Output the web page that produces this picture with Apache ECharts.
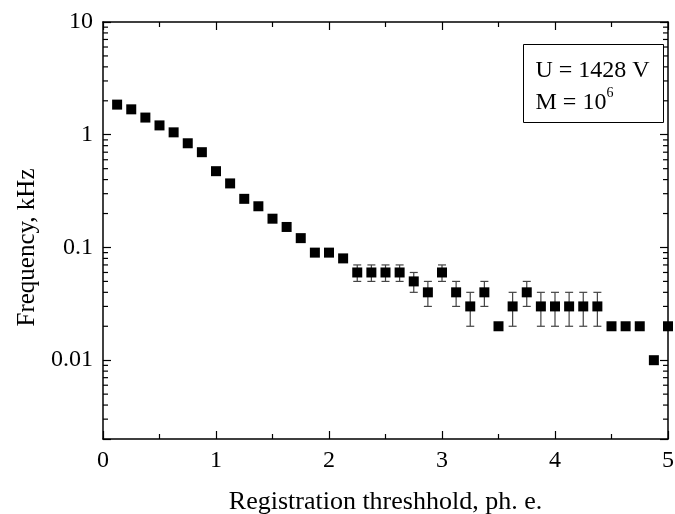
<!DOCTYPE html>
<html>
<head>
<meta charset="utf-8">
<script src="https://cdn.jsdelivr.net/npm/echarts@6/dist/echarts.min.js"></script>
<style>
  html, body { margin: 0; padding: 0; background: #fff; }
  #chart { width: 675px; height: 514px; }
</style>
</head>
<body>
<div id="chart"></div>
<script>
// registration threshold, ph. e.
const thresholds = [
  0.125, 0.25, 0.375, 0.5, 0.625, 0.75, 0.875, 1.0,
  1.125, 1.25, 1.375, 1.5, 1.625, 1.75, 1.875, 2.0,
  2.125, 2.25, 2.375, 2.5, 2.625, 2.75, 2.875, 3.0,
  3.125, 3.25, 3.375, 3.5, 3.625, 3.75, 3.875, 4.0,
  4.125, 4.25, 4.375, 4.5, 4.625, 4.75, 4.875, 5.0
];
// frequency, kHz
const frequency = [
  1.85, 1.68, 1.42, 1.21, 1.05, 0.84, 0.70, 0.475,
  0.37, 0.27, 0.232, 0.18, 0.152, 0.121, 0.09, 0.09,
  0.08, 0.06, 0.06, 0.06, 0.06, 0.05, 0.04, 0.06,
  0.04, 0.03, 0.04, 0.02, 0.03, 0.04, 0.03, 0.03,
  0.03, 0.03, 0.03, 0.02, 0.02, 0.02, 0.01, 0.02
];
// symmetric error, kHz (0 = no bar drawn)
const freqError = [
  0, 0, 0, 0, 0, 0, 0, 0,
  0, 0, 0, 0, 0, 0, 0.005, 0.005,
  0.005, 0.01, 0.01, 0.01, 0.01, 0.01, 0.01, 0.01,
  0.01, 0.01, 0.01, 0, 0.01, 0.01, 0.01, 0.01,
  0.01, 0.01, 0.01, 0, 0, 0, 0, 0
];

const yMin = 0.002;
const yMax = 10;
const xMin = 0;
const xMax = 5;
const decades = [0.001, 0.01, 0.1, 1];
const minorSteps = [2, 3, 4, 5, 6, 7, 8, 9];

const font = 'Liberation Serif';

const pointData = thresholds.map((x, i) => [x, frequency[i]]);
const errorData = thresholds
  .map((x, i) => [x, frequency[i] - freqError[i], frequency[i] + freqError[i]])
  .filter((d, i) => freqError[i] > 0);

// minor ticks of the log axes (2..9 in each decade), drawn as a custom series
const minorData = [];
decades.forEach(d => minorSteps.forEach(s => {
  const v = +(d * s).toPrecision(3);
  if (v > yMin && v < yMax) minorData.push([2.5, v, v]);
}));

function isDecade(v) {
  const l = Math.log10(v);
  return Math.abs(l - Math.round(l)) < 1e-6;
}

const axisLine = { show: true, onZero: false, lineStyle: { color: '#000', width: 1.5 } };
const majorTick = { show: true, inside: true, length: 8, lineStyle: { color: '#000', width: 1.2 } };
const xMinorTick = { show: true, splitNumber: 2, length: 5, lineStyle: { color: '#000', width: 1.2 } };

const chart = echarts.init(document.getElementById('chart'), null, { renderer: 'canvas' });

chart.setOption({
  animation: false,
  backgroundColor: '#fff',
  grid: { left: 103, right: 7, top: 22, bottom: 75, outerBoundsMode: 'none' },
  xAxis: [
    {
      type: 'value',
      min: xMin,
      max: xMax,
      interval: 1,
      position: 'bottom',
      name: 'Registration threshhold, ph. e.',
      nameLocation: 'middle',
      nameGap: 50,
      nameTextStyle: { fontFamily: font, fontSize: 26, color: '#000' },
      axisLine: axisLine,
      axisTick: majorTick,
      minorTick: xMinorTick,
      axisLabel: { fontFamily: font, fontSize: 24, color: '#000', margin: 10 },
      splitLine: { show: false }
    },
    {
      type: 'value',
      min: xMin,
      max: xMax,
      interval: 1,
      position: 'top',
      axisLine: axisLine,
      axisTick: majorTick,
      minorTick: xMinorTick,
      axisLabel: { show: false },
      splitLine: { show: false }
    }
  ],
  yAxis: [
    {
      type: 'log',
      logBase: 10,
      min: yMin,
      max: yMax,
      position: 'left',
      name: 'Frequency, kHz',
      nameLocation: 'middle',
      nameGap: 63,
      nameTextStyle: { fontFamily: font, fontSize: 25, color: '#000', padding: [0, 34, 0, 0] },
      axisLine: axisLine,
      axisTick: majorTick,
      axisLabel: {
        fontFamily: font, fontSize: 24, color: '#000', margin: 10,
        formatter: v => isDecade(v) ? String(+v.toPrecision(3)) : ''
      },
      splitLine: { show: false }
    },
    {
      type: 'log',
      logBase: 10,
      min: yMin,
      max: yMax,
      position: 'right',
      axisLine: axisLine,
      axisTick: majorTick,
      axisLabel: { show: false },
      splitLine: { show: false }
    }
  ],
  graphic: [
    {
      type: 'group',
      left: 523,
      top: 44,
      children: [
        {
          type: 'rect',
          shape: { x: 0, y: 0, width: 140, height: 78 },
          style: { fill: '#fff', stroke: '#000', lineWidth: 1 }
        },
        {
          type: 'text',
          x: 12,
          y: 10,
          style: {
            text: 'U = 1428 V\nM = 10{sup|6}',
            fontFamily: font,
            fontSize: 24,
            lineHeight: 32,
            fill: '#000',
            rich: {
              sup: { fontFamily: font, fontSize: 14, verticalAlign: 'top', lineHeight: 32, padding: [0, 0, 12, 0] }
            }
          }
        }
      ]
    }
  ],
  series: [
    {
      name: 'minor ticks',
      type: 'custom',
      silent: true,
      encode: { x: 0, y: [1, 2] },
      data: minorData,
      renderItem: (params, api) => {
        const v = api.value(1);
        const pl = api.coord([xMin, v]);
        const pr = api.coord([xMax, v]);
        const st = { stroke: '#000', lineWidth: 1.2 };
        return {
          type: 'group',
          children: [
            { type: 'line', shape: { x1: pl[0], y1: pl[1], x2: pl[0] + 5, y2: pl[1] }, style: st },
            { type: 'line', shape: { x1: pr[0], y1: pr[1], x2: pr[0] - 5, y2: pr[1] }, style: st }
          ]
        };
      }
    },
    {
      name: 'error',
      type: 'custom',
      silent: true,
      encode: { x: 0, y: [1, 2] },
      data: errorData,
      renderItem: (params, api) => {
        const x = api.value(0);
        const lo = api.coord([x, api.value(1)]);
        const hi = api.coord([x, api.value(2)]);
        const cap = 4;
        const st = { stroke: '#444', lineWidth: 1.2 };
        return {
          type: 'group',
          children: [
            { type: 'line', shape: { x1: lo[0], y1: lo[1], x2: hi[0], y2: hi[1] }, style: st },
            { type: 'line', shape: { x1: lo[0] - cap, y1: lo[1], x2: lo[0] + cap, y2: lo[1] }, style: st },
            { type: 'line', shape: { x1: hi[0] - cap, y1: hi[1], x2: hi[0] + cap, y2: hi[1] }, style: st }
          ]
        };
      }
    },
    {
      name: 'Frequency',
      type: 'scatter',
      symbol: 'rect',
      symbolSize: 10,
      clip: true,
      itemStyle: { color: '#000', opacity: 1 },
      data: pointData
    }
  ]
});
</script>
</body>
</html>
